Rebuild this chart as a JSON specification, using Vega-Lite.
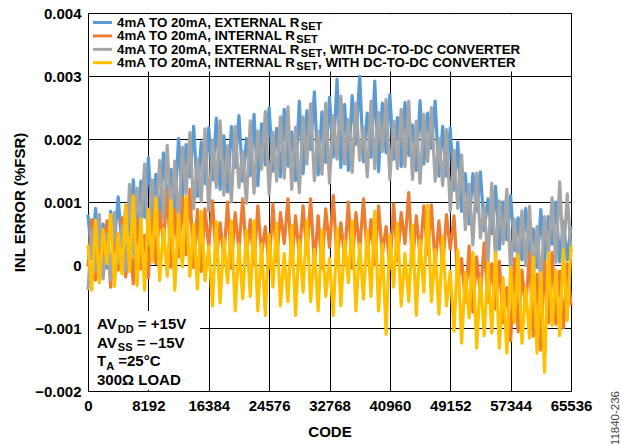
{
 "$schema": "https://vega.github.io/schema/vega-lite/v6.json",
 "width": 483,
 "height": 378,
 "autosize": "none",
 "padding": {"left": 88, "top": 13, "right": 50, "bottom": 53},
 "background": "white",
 "title": {"text": "11840-236", "orient": "right", "anchor": "end", "frame": "group", "angle": 270, "align": "right", "baseline": "middle", "fontSize": 11.5, "fontWeight": "normal", "font": "Liberation Sans", "color": "#444444", "offset": 13},
 "config": {
  "font": "Liberation Sans",
  "view": {"stroke": "black", "strokeWidth": 1},
  "axis": {"labelFont": "Liberation Sans", "labelFontWeight": "bold", "labelColor": "black", "labelFontSize": 15, "titleFont": "Liberation Sans", "titleFontWeight": "bold", "titleFontSize": 15, "titleColor": "black", "ticks": false, "domain": false, "grid": true, "gridColor": "black", "gridWidth": 1, "gridOpacity": 1}
 },
 "datasets": {
  "inl": [
   {"code":0,"ext":0.0008,"int":-0.00002,"extdc":-0.0004,"intdc":0.00032},
   {"code":512,"ext":0.0001,"int":0.00072,"extdc":0.00056,"intdc":-0.0004},
   {"code":1024,"ext":0.0009,"int":-0.00024,"extdc":-0.0001,"intdc":0.00071},
   {"code":1536,"ext":-0.00005,"int":0.00037,"extdc":0.0008,"intdc":-0.00028},
   {"code":2048,"ext":0.00065,"int":-0.00019,"extdc":-0.00022,"intdc":0.00056},
   {"code":2560,"ext":-0.00005,"int":0.0007,"extdc":0.00049,"intdc":0.00002},
   {"code":3072,"ext":0.00085,"int":-0.00035,"extdc":-0.00024,"intdc":0.0008},
   {"code":3584,"ext":0.00035,"int":0.00053,"extdc":0.00083,"intdc":-0.00034},
   {"code":4096,"ext":0.00108,"int":-0.00008,"extdc":0.00004,"intdc":0.0005},
   {"code":4608,"ext":0.00028,"int":0.00075,"extdc":0.00062,"intdc":-0.00014},
   {"code":5120,"ext":0.0009,"int":-0.00019,"extdc":-0.0001,"intdc":0.00095},
   {"code":5632,"ext":0.00048,"int":0.00042,"extdc":0.00128,"intdc":-0.0001},
   {"code":6144,"ext":0.00135,"int":-0.0003,"extdc":0.00019,"intdc":0.0011},
   {"code":6656,"ext":0.00043,"int":0.00073,"extdc":0.00122,"intdc":-0.00033},
   {"code":7168,"ext":0.00133,"int":-0.00006,"extdc":0.00064,"intdc":0.00073},
   {"code":7680,"ext":0.00076,"int":0.00047,"extdc":0.0016,"intdc":-0.0004},
   {"code":8192,"ext":0.0017,"int":-0.0002,"extdc":0.00032,"intdc":0.00088},
   {"code":8704,"ext":0.00073,"int":0.00096,"extdc":0.00135,"intdc":0.00005},
   {"code":9216,"ext":0.00144,"int":0.00002,"extdc":0.0006,"intdc":0.00106},
   {"code":9728,"ext":0.00071,"int":0.00086,"extdc":0.00166,"intdc":-0.00025},
   {"code":10240,"ext":0.00178,"int":0.00036,"extdc":0.00073,"intdc":0.00058},
   {"code":10752,"ext":0.00099,"int":0.0012,"extdc":0.0019,"intdc":-0.00018},
   {"code":11264,"ext":0.00152,"int":-0.00004,"extdc":0.00062,"intdc":0.00103},
   {"code":11776,"ext":0.00085,"int":0.00088,"extdc":0.00165,"intdc":-0.0004},
   {"code":12288,"ext":0.00201,"int":0.00013,"extdc":0.00065,"intdc":0.0008},
   {"code":12800,"ext":0.00105,"int":0.00107,"extdc":0.00187,"intdc":-0.00003},
   {"code":13312,"ext":0.00191,"int":0.00016,"extdc":0.00112,"intdc":0.0011},
   {"code":13824,"ext":0.0014,"int":0.0012,"extdc":0.0021,"intdc":-0.00018},
   {"code":14336,"ext":0.0022,"int":-0.00004,"extdc":0.00089,"intdc":0.00065},
   {"code":14848,"ext":0.00109,"int":0.00088,"extdc":0.00169,"intdc":-0.00038},
   {"code":15360,"ext":0.00195,"int":-0.0001,"extdc":0.00101,"intdc":0.00085},
   {"code":15872,"ext":0.00129,"int":0.00089,"extdc":0.00216,"intdc":-0.00025},
   {"code":16384,"ext":0.00218,"int":0.00028,"extdc":0.00085,"intdc":0.0003},
   {"code":16896,"ext":0.00135,"int":0.00102,"extdc":0.00198,"intdc":-0.00065},
   {"code":17408,"ext":0.00233,"int":0.00006,"extdc":0.00123,"intdc":0.00069},
   {"code":17920,"ext":0.0012,"int":0.00067,"extdc":0.00229,"intdc":-0.0006},
   {"code":18432,"ext":0.00205,"int":0.00012,"extdc":0.00111,"intdc":0.00042},
   {"code":18944,"ext":0.00116,"int":0.001,"extdc":0.00189,"intdc":-0.00028},
   {"code":19456,"ext":0.0022,"int":-0.00005,"extdc":0.001,"intdc":0.0007},
   {"code":19968,"ext":0.00155,"int":0.00083,"extdc":0.0022,"intdc":-0.00073},
   {"code":20480,"ext":0.00237,"int":0.00023,"extdc":0.00123,"intdc":0.00033},
   {"code":20992,"ext":0.00133,"int":0.00105,"extdc":0.0018,"intdc":-0.00054},
   {"code":21504,"ext":0.00201,"int":0.00012,"extdc":0.00098,"intdc":0.00055},
   {"code":22016,"ext":0.00142,"int":0.00072,"extdc":0.00229,"intdc":-0.0005},
   {"code":22528,"ext":0.00239,"int":0,"extdc":0.00114,"intdc":0.0007},
   {"code":23040,"ext":0.00126,"int":0.00094,"extdc":0.00213,"intdc":-0.00073},
   {"code":23552,"ext":0.00224,"int":0.00017,"extdc":0.00152,"intdc":0.00033},
   {"code":24064,"ext":0.00159,"int":0.00061,"extdc":0.00244,"intdc":-0.0008},
   {"code":24576,"ext":0.0025,"int":-0.00005,"extdc":0.00112,"intdc":0.00048},
   {"code":25088,"ext":0.00149,"int":0.00097,"extdc":0.00211,"intdc":-0.00035},
   {"code":25600,"ext":0.00217,"int":0.00006,"extdc":0.00133,"intdc":0.00066},
   {"code":26112,"ext":0.0014,"int":0.00083,"extdc":0.00235,"intdc":-0.00065},
   {"code":26624,"ext":0.00247,"int":0.00034,"extdc":0.00138,"intdc":0.00018},
   {"code":27136,"ext":0.00157,"int":0.00105,"extdc":0.00251,"intdc":-0.00058},
   {"code":27648,"ext":0.00211,"int":0,"extdc":0.0012,"intdc":0.00063},
   {"code":28160,"ext":0.00134,"int":0.00078,"extdc":0.00219,"intdc":-0.0008},
   {"code":28672,"ext":0.0026,"int":0.00014,"extdc":0.00115,"intdc":0.0004},
   {"code":29184,"ext":0.00145,"int":0.00094,"extdc":0.00235,"intdc":-0.00043},
   {"code":29696,"ext":0.00245,"int":0.00017,"extdc":0.0016,"intdc":0.0007},
   {"code":30208,"ext":0.00183,"int":0.00105,"extdc":0.00256,"intdc":-0.00058},
   {"code":30720,"ext":0.00275,"int":0,"extdc":0.00134,"intdc":0.00025},
   {"code":31232,"ext":0.00143,"int":0.00078,"extdc":0.00212,"intdc":-0.00073},
   {"code":31744,"ext":0.00243,"int":-0.00005,"extdc":0.00144,"intdc":0.00055},
   {"code":32256,"ext":0.00163,"int":0.00089,"extdc":0.00257,"intdc":-0.0005},
   {"code":32768,"ext":0.00266,"int":0.00028,"extdc":0.0013,"intdc":0.0001},
   {"code":33280,"ext":0.00171,"int":0.0011,"extdc":0.00237,"intdc":-0.0008},
   {"code":33792,"ext":0.00295,"int":0.00006,"extdc":0.00168,"intdc":0.00059},
   {"code":34304,"ext":0.00155,"int":0.00067,"extdc":0.00268,"intdc":-0.00065},
   {"code":34816,"ext":0.00255,"int":0.00012,"extdc":0.0016,"intdc":0.0004},
   {"code":35328,"ext":0.0015,"int":0.001,"extdc":0.00231,"intdc":-0.00028},
   {"code":35840,"ext":0.00269,"int":-0.00005,"extdc":0.00147,"intdc":0.0007},
   {"code":36352,"ext":0.00192,"int":0.00083,"extdc":0.00257,"intdc":-0.00073},
   {"code":36864,"ext":0.003,"int":0.00023,"extdc":0.00166,"intdc":0.00033},
   {"code":37376,"ext":0.00164,"int":0.00105,"extdc":0.00218,"intdc":-0.00054},
   {"code":37888,"ext":0.00241,"int":0.00012,"extdc":0.0014,"intdc":0.00055},
   {"code":38400,"ext":0.00171,"int":0.00072,"extdc":0.0026,"intdc":-0.0005},
   {"code":38912,"ext":0.00292,"int":0,"extdc":0.00153,"intdc":0.00085},
   {"code":39424,"ext":0.00148,"int":0.00094,"extdc":0.00242,"intdc":-0.00073},
   {"code":39936,"ext":0.00257,"int":0.00017,"extdc":0.0018,"intdc":0.00033},
   {"code":40448,"ext":0.00178,"int":0.00061,"extdc":0.00263,"intdc":-0.0011},
   {"code":40960,"ext":0.0027,"int":-0.00005,"extdc":0.00136,"intdc":0.00048},
   {"code":41472,"ext":0.00168,"int":0.00097,"extdc":0.00228,"intdc":-0.00035},
   {"code":41984,"ext":0.00234,"int":0.00006,"extdc":0.00153,"intdc":0.00066},
   {"code":42496,"ext":0.00156,"int":0.00083,"extdc":0.00247,"intdc":-0.00065},
   {"code":43008,"ext":0.00258,"int":0.00034,"extdc":0.00156,"intdc":0.00018},
   {"code":43520,"ext":0.00174,"int":0.00115,"extdc":0.0026,"intdc":-0.00058},
   {"code":44032,"ext":0.00222,"int":0,"extdc":0.00136,"intdc":0.00063},
   {"code":44544,"ext":0.0015,"int":0.00078,"extdc":0.00228,"intdc":-0.0008},
   {"code":45056,"ext":0.00261,"int":0.00014,"extdc":0.0013,"intdc":0.0004},
   {"code":45568,"ext":0.0016,"int":0.00094,"extdc":0.00239,"intdc":-0.00043},
   {"code":46080,"ext":0.00241,"int":0.00017,"extdc":0.00164,"intdc":0.00095},
   {"code":46592,"ext":0.00185,"int":0.00095,"extdc":0.0025,"intdc":-0.00058},
   {"code":47104,"ext":0.0026,"int":0,"extdc":0.00133,"intdc":0.00025},
   {"code":47616,"ext":0.00141,"int":0.0007,"extdc":0.00201,"intdc":-0.00078},
   {"code":48128,"ext":0.0022,"int":-0.00005,"extdc":0.00126,"intdc":0.00045},
   {"code":48640,"ext":0.00141,"int":0.0008,"extdc":0.00215,"intdc":-0.00065},
   {"code":49152,"ext":0.00218,"int":0.00025,"extdc":0.00085,"intdc":-0.0001},
   {"code":49664,"ext":0.00119,"int":0.00078,"extdc":0.00182,"intdc":-0.00105},
   {"code":50176,"ext":0.00195,"int":-0.0003,"extdc":0.0009,"intdc":0.00024},
   {"code":50688,"ext":0.00085,"int":0.0001,"extdc":0.00175,"intdc":-0.00124},
   {"code":51200,"ext":0.00145,"int":-0.00059,"extdc":0.00056,"intdc":-0.00012},
   {"code":51712,"ext":0.00065,"int":0.0003,"extdc":0.00128,"intdc":-0.00084},
   {"code":52224,"ext":0.00145,"int":-0.00075,"extdc":0.00032,"intdc":0.0002},
   {"code":52736,"ext":0.00085,"int":0.00013,"extdc":0.00146,"intdc":-0.00132},
   {"code":53248,"ext":0.00148,"int":-0.000475,"extdc":0.00043,"intdc":-0.0002},
   {"code":53760,"ext":0.00055,"int":0.00035,"extdc":0.00094,"intdc":-0.00112},
   {"code":54272,"ext":0.00105,"int":-0.00059,"extdc":0.00005,"intdc":0.00004},
   {"code":54784,"ext":0.0005,"int":0.00002,"extdc":0.0013,"intdc":-0.00108},
   {"code":55296,"ext":0.00125,"int":-0.0007,"extdc":0.00009,"intdc":0.0002},
   {"code":55808,"ext":0.00025,"int":0.00006,"extdc":0.00102,"intdc":-0.00132},
   {"code":56320,"ext":0.001,"int":-0.00092,"extdc":0.00034,"intdc":-0.0002},
   {"code":56832,"ext":0.0004,"int":-0.00036,"extdc":0.0012,"intdc":-0.0014},
   {"code":57344,"ext":0.0011,"int":-0.0012,"extdc":-0.00009,"intdc":-0.00004},
   {"code":57856,"ext":0.00023,"int":0.0001,"extdc":0.00073,"intdc":-0.00092},
   {"code":58368,"ext":0.00075,"int":-0.00106,"extdc":0.00001,"intdc":0.00016},
   {"code":58880,"ext":0.00008,"int":-0.00008,"extdc":0.00086,"intdc":-0.00124},
   {"code":59392,"ext":0.0009,"int":-0.00071,"extdc":-0.00001,"intdc":-0.00036},
   {"code":59904,"ext":0.00018,"int":0.0002,"extdc":0.00093,"intdc":-0.00116},
   {"code":60416,"ext":0.00057,"int":-0.00113,"extdc":-0.00022,"intdc":0.00012},
   {"code":60928,"ext":-0.00004,"int":-0.00015,"extdc":0.00061,"intdc":-0.0014},
   {"code":61440,"ext":0.00088,"int":-0.00135,"extdc":-0.0003,"intdc":-0.00012},
   {"code":61952,"ext":0.00006,"int":0.00006,"extdc":0.00077,"intdc":-0.0017},
   {"code":62464,"ext":0.00077,"int":-0.00092,"extdc":0.00016,"intdc":0.0002},
   {"code":62976,"ext":0.00033,"int":0.0002,"extdc":0.00107,"intdc":-0.00096},
   {"code":63488,"ext":0.001,"int":-0.00094,"extdc":0.00004,"intdc":-0.00008},
   {"code":64000,"ext":0.00005,"int":-0.0001,"extdc":0.00132,"intdc":-0.00112},
   {"code":64512,"ext":0.0007,"int":-0.001,"extdc":0.00011,"intdc":0.00024},
   {"code":65024,"ext":0.00008,"int":0.00002,"extdc":0.00113,"intdc":-0.00088},
   {"code":65536,"ext":0.00062,"int":-0.00064,"extdc":0.0002,"intdc":0.0003}
  ]
 },
 "layer": [
  {
   "data": {"name": "inl"},
   "transform": [{"fold": ["ext", "int", "extdc", "intdc"], "as": ["series", "inl"]}],
   "mark": {"type": "line", "strokeWidth": 3.2, "strokeJoin": "round"},
   "encoding": {
    "x": {"field": "code", "type": "quantitative", "scale": {"domain": [0, 65536], "nice": false, "zero": false},
     "axis": {"values": [0, 8192, 16384, 24576, 32768, 40960, 49152, 57344, 65536], "format": "d", "labelPadding": 7, "title": "CODE", "titlePadding": 11, "labelFlush": false, "labelOverlap": false}},
    "y": {"field": "inl", "type": "quantitative", "scale": {"domain": [-0.002, 0.004], "nice": false, "zero": false},
     "axis": {"values": [-0.002, -0.001, 0, 0.001, 0.002, 0.003, 0.004], "format": ".3~f", "labelPadding": 7, "title": "INL ERROR (%FSR)", "titlePadding": 7, "labelFlush": false, "labelOverlap": false}},
    "color": {"field": "series", "type": "nominal", "scale": {"domain": ["ext", "int", "extdc", "intdc"], "range": ["#5B9BD5", "#ED7D31", "#A5A5A5", "#FFC000"]}, "legend": null}
   }
  },
  {
   "data": {"values": [{}]},
   "layer": [
    {"mark": {"type": "rect", "fill": "white"}, "encoding": {"x": {"datum": 150, "type": "quantitative"}, "x2": {"datum": 65386}, "y": {"datum": 0.00307, "type": "quantitative"}, "y2": {"datum": 0.00398}}},
    {"mark": {"type": "rect", "fill": "white"}, "encoding": {"x": {"datum": 150, "type": "quantitative"}, "x2": {"datum": 15200}, "y": {"datum": -0.00198, "type": "quantitative"}, "y2": {"datum": -0.00073}}},
    {"mark": {"type": "rule", "color": "#5B9BD5", "strokeWidth": 3}, "encoding": {"x": {"datum": 680, "type": "quantitative"}, "x2": {"datum": 3260}, "y": {"datum": 0.003849, "type": "quantitative"}}},
    {"mark": {"type": "rule", "color": "#ED7D31", "strokeWidth": 3}, "encoding": {"x": {"datum": 680, "type": "quantitative"}, "x2": {"datum": 3260}, "y": {"datum": 0.003636, "type": "quantitative"}}},
    {"mark": {"type": "rule", "color": "#A5A5A5", "strokeWidth": 3}, "encoding": {"x": {"datum": 680, "type": "quantitative"}, "x2": {"datum": 3260}, "y": {"datum": 0.003423, "type": "quantitative"}}},
    {"mark": {"type": "rule", "color": "#FFC000", "strokeWidth": 3}, "encoding": {"x": {"datum": 680, "type": "quantitative"}, "x2": {"datum": 3260}, "y": {"datum": 0.003211, "type": "quantitative"}}},
    {"mark": {"type": "text", "text": "4mA TO 20mA, EXTERNAL R", "align": "left", "baseline": "alphabetic", "fontSize": 13.3, "fontWeight": "bold", "color": "black"}, "encoding": {"x": {"datum": 3935, "type": "quantitative"}, "y": {"datum": 0.003778, "type": "quantitative"}}},
    {"mark": {"type": "text", "text": "SET", "align": "left", "baseline": "alphabetic", "fontSize": 11, "fontWeight": "bold", "color": "black"}, "encoding": {"x": {"datum": 28873, "type": "quantitative"}, "y": {"datum": 0.00373, "type": "quantitative"}}},
    {"mark": {"type": "text", "text": "4mA TO 20mA, INTERNAL R", "align": "left", "baseline": "alphabetic", "fontSize": 13.3, "fontWeight": "bold", "color": "black"}, "encoding": {"x": {"datum": 3935, "type": "quantitative"}, "y": {"datum": 0.003565, "type": "quantitative"}}},
    {"mark": {"type": "text", "text": "SET", "align": "left", "baseline": "alphabetic", "fontSize": 11, "fontWeight": "bold", "color": "black"}, "encoding": {"x": {"datum": 28262, "type": "quantitative"}, "y": {"datum": 0.003517, "type": "quantitative"}}},
    {"mark": {"type": "text", "text": "4mA TO 20mA, EXTERNAL R", "align": "left", "baseline": "alphabetic", "fontSize": 13.3, "fontWeight": "bold", "color": "black"}, "encoding": {"x": {"datum": 3935, "type": "quantitative"}, "y": {"datum": 0.003352, "type": "quantitative"}}},
    {"mark": {"type": "text", "text": "SET", "align": "left", "baseline": "alphabetic", "fontSize": 11, "fontWeight": "bold", "color": "black"}, "encoding": {"x": {"datum": 28873, "type": "quantitative"}, "y": {"datum": 0.003304, "type": "quantitative"}}},
    {"mark": {"type": "text", "text": ", WITH DC-TO-DC CONVERTER", "align": "left", "baseline": "alphabetic", "fontSize": 13.3, "fontWeight": "bold", "color": "black"}, "encoding": {"x": {"datum": 31817, "type": "quantitative"}, "y": {"datum": 0.003352, "type": "quantitative"}}},
    {"mark": {"type": "text", "text": "4mA TO 20mA, INTERNAL R", "align": "left", "baseline": "alphabetic", "fontSize": 13.3, "fontWeight": "bold", "color": "black"}, "encoding": {"x": {"datum": 3935, "type": "quantitative"}, "y": {"datum": 0.00314, "type": "quantitative"}}},
    {"mark": {"type": "text", "text": "SET", "align": "left", "baseline": "alphabetic", "fontSize": 11, "fontWeight": "bold", "color": "black"}, "encoding": {"x": {"datum": 28262, "type": "quantitative"}, "y": {"datum": 0.003092, "type": "quantitative"}}},
    {"mark": {"type": "text", "text": ", WITH DC-TO-DC CONVERTER", "align": "left", "baseline": "alphabetic", "fontSize": 13.3, "fontWeight": "bold", "color": "black"}, "encoding": {"x": {"datum": 31206, "type": "quantitative"}, "y": {"datum": 0.00314, "type": "quantitative"}}},
    {"mark": {"type": "text", "text": "AV", "align": "left", "baseline": "alphabetic", "fontSize": 15, "fontWeight": "bold", "color": "black"}, "encoding": {"x": {"datum": 1221, "type": "quantitative"}, "y": {"datum": -0.001016, "type": "quantitative"}}},
    {"mark": {"type": "text", "text": "DD", "align": "left", "baseline": "alphabetic", "fontSize": 11, "fontWeight": "bold", "color": "black"}, "encoding": {"x": {"datum": 4043, "type": "quantitative"}, "y": {"datum": -0.00108, "type": "quantitative"}}},
    {"mark": {"type": "text", "text": "= +15V", "align": "left", "baseline": "alphabetic", "fontSize": 15, "fontWeight": "bold", "color": "black"}, "encoding": {"x": {"datum": 6765, "type": "quantitative"}, "y": {"datum": -0.001016, "type": "quantitative"}}},
    {"mark": {"type": "text", "text": "AV", "align": "left", "baseline": "alphabetic", "fontSize": 15, "fontWeight": "bold", "color": "black"}, "encoding": {"x": {"datum": 1221, "type": "quantitative"}, "y": {"datum": -0.00131, "type": "quantitative"}}},
    {"mark": {"type": "text", "text": "SS", "align": "left", "baseline": "alphabetic", "fontSize": 11, "fontWeight": "bold", "color": "black"}, "encoding": {"x": {"datum": 4043, "type": "quantitative"}, "y": {"datum": -0.001373, "type": "quantitative"}}},
    {"mark": {"type": "text", "text": "= –15V", "align": "left", "baseline": "alphabetic", "fontSize": 15, "fontWeight": "bold", "color": "black"}, "encoding": {"x": {"datum": 6603, "type": "quantitative"}, "y": {"datum": -0.00131, "type": "quantitative"}}},
    {"mark": {"type": "text", "text": "T", "align": "left", "baseline": "alphabetic", "fontSize": 15, "fontWeight": "bold", "color": "black"}, "encoding": {"x": {"datum": 1221, "type": "quantitative"}, "y": {"datum": -0.001603, "type": "quantitative"}}},
    {"mark": {"type": "text", "text": "A", "align": "left", "baseline": "alphabetic", "fontSize": 11, "fontWeight": "bold", "color": "black"}, "encoding": {"x": {"datum": 2469, "type": "quantitative"}, "y": {"datum": -0.001666, "type": "quantitative"}}},
    {"mark": {"type": "text", "text": "=25°C", "align": "left", "baseline": "alphabetic", "fontSize": 15, "fontWeight": "bold", "color": "black"}, "encoding": {"x": {"datum": 4106, "type": "quantitative"}, "y": {"datum": -0.001603, "type": "quantitative"}}},
    {"mark": {"type": "text", "text": "300Ω LOAD", "align": "left", "baseline": "alphabetic", "fontSize": 15, "fontWeight": "bold", "color": "black"}, "encoding": {"x": {"datum": 1221, "type": "quantitative"}, "y": {"datum": -0.001897, "type": "quantitative"}}}
   ]
  }
 ]
}
